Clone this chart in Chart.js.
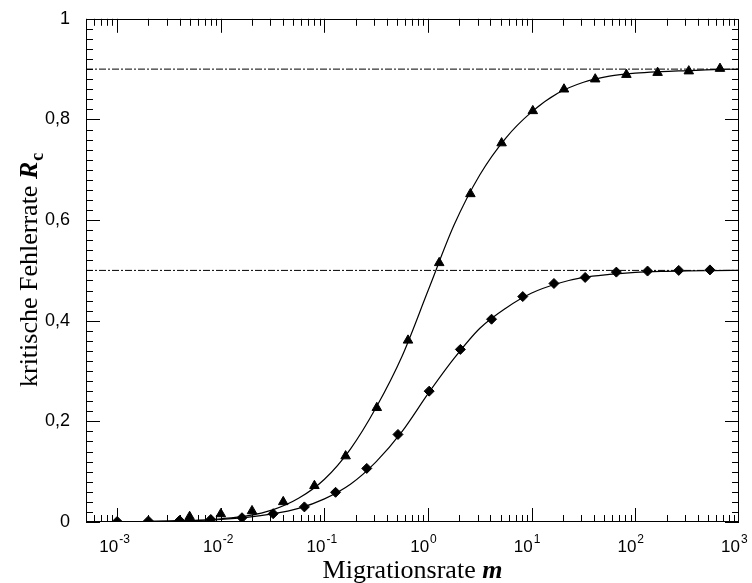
<!DOCTYPE html>
<html>
<head>
<meta charset="utf-8">
<script src="https://cdn.jsdelivr.net/npm/chart.js@4.4.0/dist/chart.umd.min.js"></script>
<style>
  html, body { margin: 0; padding: 0; background: #fff; }
  #wrap { width: 752px; height: 583px; position: relative; }
</style>
</head>
<body>
<div id="wrap"><canvas id="fehlerrateChart"></canvas></div>
<script>
// Messpunkte obere Kurve (Dreiecke)
const mTriangle = [0.005, 0.01, 0.02, 0.04, 0.08, 0.16, 0.32, 0.64, 1.28, 2.56, 5.12, 10.24, 20.48, 40.96, 81.92, 163.84, 327.68, 655.36];
const rTriangle = [0.0105, 0.016, 0.022, 0.04, 0.072, 0.131, 0.227, 0.361, 0.515, 0.652, 0.753, 0.817, 0.86, 0.88, 0.889, 0.893, 0.896, 0.901];

// Messpunkte untere Kurve (Rauten)
const mDiamond = [0.001, 0.002, 0.004, 0.008, 0.016, 0.032, 0.064, 0.128, 0.256, 0.512, 1.024, 2.048, 4.096, 8.192, 16.384, 32.768, 65.536, 131.072, 262.144, 524.288];
const rDiamond = [0.001, 0.002, 0.003, 0.005, 0.0085, 0.0165, 0.03, 0.059, 0.1065, 0.174, 0.26, 0.343, 0.403, 0.448, 0.474, 0.486, 0.4966, 0.4987, 0.5, 0.501];

// durchgezogene Kurven
const mCurve = [0.001, 0.00178, 0.00316, 0.00562, 0.01, 0.0178, 0.0316, 0.0562, 0.1, 0.178, 0.316, 0.562, 1, 1.78, 3.16, 5.62, 10, 17.8, 31.6, 56.2, 100, 178, 316, 562, 1000];
const rCurveUpper = [0.0005, 0.001, 0.002, 0.0035, 0.0065, 0.012, 0.024, 0.047, 0.085, 0.145, 0.228, 0.33, 0.46, 0.59, 0.69, 0.763, 0.815, 0.852, 0.874, 0.886, 0.892, 0.895, 0.897, 0.899, 0.9];
const rCurveLower = [0.0005, 0.001, 0.0016, 0.003, 0.005, 0.009, 0.016, 0.027, 0.046, 0.075, 0.12, 0.18, 0.255, 0.325, 0.385, 0.425, 0.455, 0.474, 0.486, 0.492, 0.496, 0.498, 0.499, 0.4995, 0.5];

// Grenzwerte (strichpunktiert)
const limitValues = [0.9, 0.5];
const limitRange = [0.0005, 1000];

// Achsen
const xExponents = [-3, -2, -1, 0, 1, 2, 3];
const yTicks = [0, 0.2, 0.4, 0.6, 0.8, 1];

const toPoints = (xs, ys) => xs.map((v, i) => ({ x: v, y: ys[i] }));

const boxPlugin = {
    id: 'boxPlugin',
    afterDraw(chart) {
        const { ctx, chartArea: a, scales } = chart;
        const xs = scales.x, ys = scales.y;
        ctx.save();
        ctx.strokeStyle = '#000';
        ctx.lineWidth = 1;

        // Rahmen
        ctx.strokeRect(Math.round(a.left) + 0.5, Math.round(a.top) + 0.5,
            Math.round(a.right - a.left) - 1, Math.round(a.bottom - a.top) - 1);

        ctx.beginPath();
        // x-Ticks (innen, unten und oben)
        for (let e = -4; e <= 2; e++) {
            for (let k = 1; k <= 9; k++) {
                const v = k * Math.pow(10, e);
                if (v < xs.min || v > xs.max) continue;
                const px = Math.round(xs.getPixelForValue(v)) + 0.5;
                const len = k === 1 ? 14 : 7;
                ctx.moveTo(px, a.bottom); ctx.lineTo(px, a.bottom - len);
                ctx.moveTo(px, a.top); ctx.lineTo(px, a.top + len);
            }
        }
        // y-Ticks (innen, links und rechts)
        for (let i = 0; i <= 50; i++) {
            const v = i * 0.02;
            const py = Math.round(ys.getPixelForValue(v)) + 0.5;
            const len = i % 10 === 0 ? 14 : 7;
            ctx.moveTo(a.left, py); ctx.lineTo(a.left + len, py);
            ctx.moveTo(a.right, py); ctx.lineTo(a.right - len, py);
        }
        ctx.stroke();

        // x-Beschriftung 10^n
        ctx.fillStyle = '#000';
        ctx.textBaseline = 'alphabetic';
        xExponents.forEach(e => {
            const px = xs.getPixelForValue(Math.pow(10, e));
            ctx.font = '17px "Liberation Sans", Arial, sans-serif';
            ctx.textAlign = 'right';
            ctx.fillText('10', px + 1, 552);
            ctx.font = '12px "Liberation Sans", Arial, sans-serif';
            ctx.textAlign = 'left';
            ctx.fillText(String(e), px + 2, 543);
        });

        // x-Achsentitel
        const serif = '"Liberation Serif", "Times New Roman", serif';
        ctx.font = '26px ' + serif;
        const t1 = 'Migrationsrate ';
        const w1 = ctx.measureText(t1).width;
        ctx.font = 'italic bold 26px ' + serif;
        const w2 = ctx.measureText('m').width;
        let sx = (a.left + a.right) / 2 - (w1 + w2) / 2;
        ctx.textAlign = 'left';
        ctx.font = '26px ' + serif;
        ctx.fillText(t1, sx, 578);
        ctx.font = 'italic bold 26px ' + serif;
        ctx.fillText('m', sx + w1, 578);

        // y-Achsentitel
        ctx.translate(37, (a.top + a.bottom) / 2);
        ctx.rotate(-Math.PI / 2);
        ctx.font = '26px ' + serif;
        const y1 = 'kritische Fehlerrate ';
        const wy1 = ctx.measureText(y1).width;
        ctx.font = 'italic bold 26px ' + serif;
        const wy2 = ctx.measureText('R').width;
        ctx.font = 'bold 18px ' + serif;
        const wy3 = ctx.measureText('c').width;
        sx = -(wy1 + wy2 + wy3) / 2;
        ctx.font = '26px ' + serif;
        ctx.fillText(y1, sx, 0);
        ctx.font = 'italic bold 26px ' + serif;
        ctx.fillText('R', sx + wy1, 0);
        ctx.font = 'bold 18px ' + serif;
        ctx.fillText('c', sx + wy1 + wy2 + 1, 6);

        ctx.restore();
    }
};

const ctx = document.getElementById('fehlerrateChart').getContext('2d');

window.fehlerrateChart = new Chart(ctx, {
    type: 'scatter',
    data: {
        datasets: [
            {
                data: toPoints(mTriangle, rTriangle),
                showLine: false,
                pointStyle: 'triangle',
                pointRadius: 5.5,
                pointBackgroundColor: '#000',
                pointBorderColor: '#000',
                pointBorderWidth: 1
            },
            {
                data: toPoints(mDiamond, rDiamond),
                showLine: false,
                pointStyle: 'rectRot',
                pointRadius: 5,
                pointBackgroundColor: '#000',
                pointBorderColor: '#000',
                pointBorderWidth: 1
            },
            {
                data: toPoints(mCurve, rCurveUpper),
                showLine: true,
                pointRadius: 0,
                borderColor: '#000',
                borderWidth: 1.2,
                cubicInterpolationMode: 'monotone'
            },
            {
                data: toPoints(mCurve, rCurveLower),
                showLine: true,
                pointRadius: 0,
                borderColor: '#000',
                borderWidth: 1.2,
                cubicInterpolationMode: 'monotone'
            },
            ...limitValues.map(v => ({
                data: toPoints(limitRange, [v, v]),
                showLine: true,
                pointRadius: 0,
                borderColor: '#000',
                borderWidth: 1,
                borderDash: [7, 2, 2, 2]
            }))
        ]
    },
    options: {
        responsive: true,
        maintainAspectRatio: false,
        animation: false,
        events: [],
        layout: { autoPadding: false, padding: { top: 18, right: 13, left: 0, bottom: 0 } },
        plugins: {
            legend: { display: false },
            tooltip: { enabled: false }
        },
        scales: {
            x: {
                type: 'logarithmic',
                min: limitRange[0],
                max: limitRange[1],
                grid: { display: false },
                border: { display: false },
                ticks: { display: false },
                afterFit: scale => { scale.height = 61; }
            },
            y: {
                min: 0,
                max: 1,
                grid: { display: false },
                border: { display: false },
                afterBuildTicks: scale => { scale.ticks = yTicks.map(v => ({ value: v })); },
                ticks: {
                    color: '#000',
                    padding: 8,
                    font: { family: '"Liberation Sans", Arial, sans-serif', size: 18 },
                    callback: v => String(v).replace('.', ',')
                },
                afterFit: scale => { scale.width = 86; }
            }
        }
    },
    plugins: [boxPlugin]
});
</script>
</body>
</html>
